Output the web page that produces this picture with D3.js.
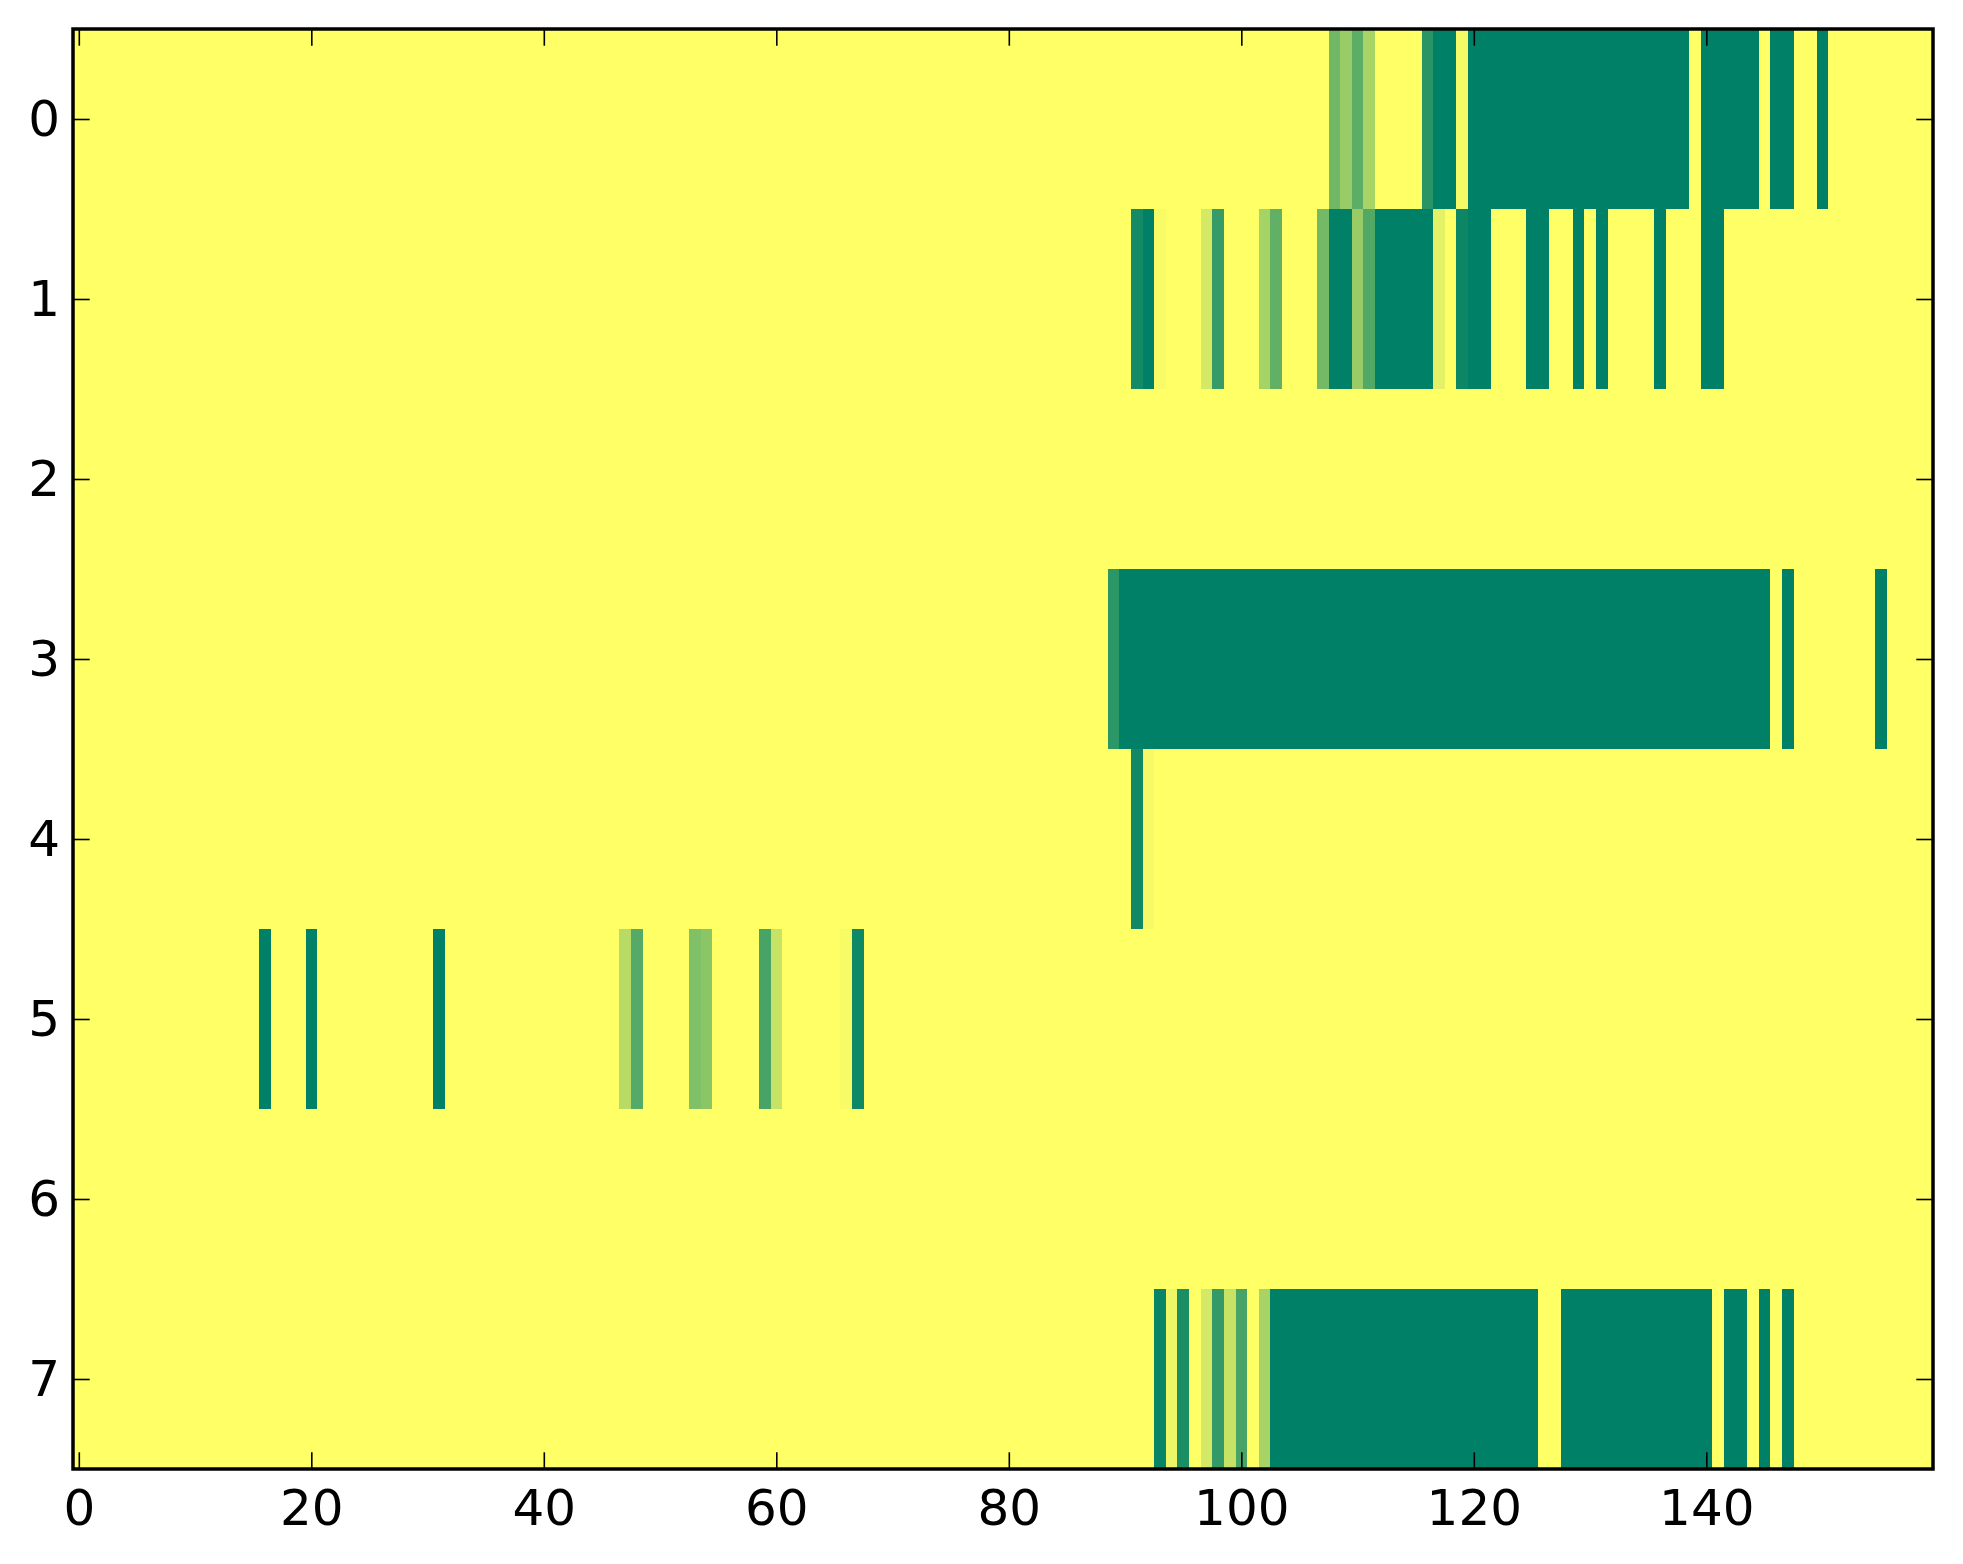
<!DOCTYPE html>
<html lang="en">
<head>
    <meta charset="UTF-8">
    <title>Heatmap</title>
    <style>
        body {
            margin: 0;
            background-color: white;
        }
        svg text {
            font-family: "DejaVu Sans", sans-serif;
        }
    </style>
</head>
<body>
    <div id="chart"></div>

    <script src="https://d3js.org/d3.v7.min.js"></script>
    <script>
        // one array per row, 160 columns each (values 0..1)
        const row0 = [
            0,0,0,0,0,0,0,0,0,0,0,0,0,0,0,0,0,0,0,0,
            0,0,0,0,0,0,0,0,0,0,0,0,0,0,0,0,0,0,0,0,
            0,0,0,0,0,0,0,0,0,0,0,0,0,0,0,0,0,0,0,0,
            0,0,0,0,0,0,0,0,0,0,0,0,0,0,0,0,0,0,0,0,
            0,0,0,0,0,0,0,0,0,0,0,0,0,0,0,0,0,0,0,0,
            0,0,0,0,0,0,0,0,.56,.4,.64,.34,0,0,0,0,.84,1,1,.04,
            1,1,1,1,1,1,1,1,1,1,1,1,1,1,1,1,1,1,1,0,
            1,1,1,1,1,0,1,1,0,0,1,0,0,0,0,0,0,0,0,0
        ];
        const row1 = [
            0,0,0,0,0,0,0,0,0,0,0,0,0,0,0,0,0,0,0,0,
            0,0,0,0,0,0,0,0,0,0,0,0,0,0,0,0,0,0,0,0,
            0,0,0,0,0,0,0,0,0,0,0,0,0,0,0,0,0,0,0,0,
            0,0,0,0,0,0,0,0,0,0,0,0,0,0,0,0,0,0,0,0,
            0,0,0,0,0,0,0,0,0,0,0,.92,1,.03,0,0,0,.17,.79,0,
            0,0,.35,.62,0,0,0,.55,1,1,.4,.68,1,1,1,1,1,.11,0,.95,
            1,1,0,0,0,1,1,0,0,1,0,1,0,0,0,0,1,0,0,0,
            1,1,0,0,0,0,0,0,0,0,0,0,0,0,0,0,0,0,0,0
        ];
        const row2 = [
            0,0,0,0,0,0,0,0,0,0,0,0,0,0,0,0,0,0,0,0,
            0,0,0,0,0,0,0,0,0,0,0,0,0,0,0,0,0,0,0,0,
            0,0,0,0,0,0,0,0,0,0,0,0,0,0,0,0,0,0,0,0,
            0,0,0,0,0,0,0,0,0,0,0,0,0,0,0,0,0,0,0,0,
            0,0,0,0,0,0,0,0,0,0,0,0,0,0,0,0,0,0,0,0,
            0,0,0,0,0,0,0,0,0,0,0,0,0,0,0,0,0,0,0,0,
            0,0,0,0,0,0,0,0,0,0,0,0,0,0,0,0,0,0,0,0,
            0,0,0,0,0,0,0,0,0,0,0,0,0,0,0,0,0,0,0,0
        ];
        const row3 = [
            0,0,0,0,0,0,0,0,0,0,0,0,0,0,0,0,0,0,0,0,
            0,0,0,0,0,0,0,0,0,0,0,0,0,0,0,0,0,0,0,0,
            0,0,0,0,0,0,0,0,0,0,0,0,0,0,0,0,0,0,0,0,
            0,0,0,0,0,0,0,0,0,0,0,0,0,0,0,0,0,0,0,0,
            0,0,0,0,0,0,0,0,0,.83,1,1,1,1,1,1,1,1,1,1,
            1,1,1,1,1,1,1,1,1,1,1,1,1,1,1,1,1,1,1,1,
            1,1,1,1,1,1,1,1,1,1,1,1,1,1,1,1,1,1,1,1,
            1,1,1,1,1,1,0,1,0,0,0,0,0,0,0,1,0,0,0,0
        ];
        const row4 = [
            0,0,0,0,0,0,0,0,0,0,0,0,0,0,0,0,0,0,0,0,
            0,0,0,0,0,0,0,0,0,0,0,0,0,0,0,0,0,0,0,0,
            0,0,0,0,0,0,0,0,0,0,0,0,0,0,0,0,0,0,0,0,
            0,0,0,0,0,0,0,0,0,0,0,0,0,0,0,0,0,0,0,0,
            0,0,0,0,0,0,0,0,0,0,0,.93,.04,0,0,0,0,0,0,0,
            0,0,0,0,0,0,0,0,0,0,0,0,0,0,0,0,0,0,0,0,
            0,0,0,0,0,0,0,0,0,0,0,0,0,0,0,0,0,0,0,0,
            0,0,0,0,0,0,0,0,0,0,0,0,0,0,0,0,0,0,0,0
        ];
        const row5 = [
            0,0,0,0,0,0,0,0,0,0,0,0,0,0,0,0,1,0,0,0,
            1,0,0,0,0,0,0,0,0,0,0,1,0,0,0,0,0,0,0,0,
            0,0,0,0,0,0,0,.28,.67,0,0,0,0,.5,.46,0,0,0,0,.72,
            .22,0,0,0,0,0,.03,.94,0,0,0,0,0,0,0,0,0,0,0,0,
            0,0,0,0,0,0,0,0,0,0,0,0,0,0,0,0,0,0,0,0,
            0,0,0,0,0,0,0,0,0,0,0,0,0,0,0,0,0,0,0,0,
            0,0,0,0,0,0,0,0,0,0,0,0,0,0,0,0,0,0,0,0,
            0,0,0,0,0,0,0,0,0,0,0,0,0,0,0,0,0,0,0,0
        ];
        const row6 = [
            0,0,0,0,0,0,0,0,0,0,0,0,0,0,0,0,0,0,0,0,
            0,0,0,0,0,0,0,0,0,0,0,0,0,0,0,0,0,0,0,0,
            0,0,0,0,0,0,0,0,0,0,0,0,0,0,0,0,0,0,0,0,
            0,0,0,0,0,0,0,0,0,0,0,0,0,0,0,0,0,0,0,0,
            0,0,0,0,0,0,0,0,0,0,0,0,0,0,0,0,0,0,0,0,
            0,0,0,0,0,0,0,0,0,0,0,0,0,0,0,0,0,0,0,0,
            0,0,0,0,0,0,0,0,0,0,0,0,0,0,0,0,0,0,0,0,
            0,0,0,0,0,0,0,0,0,0,0,0,0,0,0,0,0,0,0,0
        ];
        const row7 = [
            0,0,0,0,0,0,0,0,0,0,0,0,0,0,0,0,0,0,0,0,
            0,0,0,0,0,0,0,0,0,0,0,0,0,0,0,0,0,0,0,0,
            0,0,0,0,0,0,0,0,0,0,0,0,0,0,0,0,0,0,0,0,
            0,0,0,0,0,0,0,0,0,0,0,0,0,0,0,0,0,0,0,0,
            0,0,0,0,0,0,0,0,0,0,0,0,0,.97,.07,.89,0,.17,.8,.22,
            .72,0,.34,1,1,1,1,1,1,1,1,1,1,1,1,1,1,1,1,1,
            1,1,1,1,1,1,0,0,1,1,1,1,1,1,1,1,1,1,1,1,
            1,0,1,1,0,1,0,1,0,0,0,0,0,0,0,0,0,0,0,0
        ];
        const rows = [row0, row1, row2, row3, row4, row5, row6, row7];

        const xTicks = [0, 20, 40, 60, 80, 100, 120, 140];
        const yTicks = [0, 1, 2, 3, 4, 5, 6, 7];

        const width = 1963;
        const height = 1564;
        const margin = { left: 73, right: 1933, top: 29, bottom: 1469 };
        const tickLen = 16.7;

        const nCols = row0.length;
        const nRows = rows.length;

        const x = d3.scaleLinear().domain([-0.5, nCols - 0.5]).range([margin.left, margin.right]);
        const y = d3.scaleLinear().domain([-0.5, nRows - 0.5]).range([margin.top, margin.bottom]);
        // summer_r: 0 -> yellow, 1 -> green
        const color = d3.scaleLinear().domain([0, 1]).range(['#ffff66', '#008066']);

        const svg = d3.select('#chart')
            .append('svg')
            .attr('width', width)
            .attr('height', height);

        const cells = [];
        rows.forEach((r, i) => r.forEach((v, j) => cells.push({ row: i, col: j, value: v })));

        svg.append('g')
            .attr('shape-rendering', 'crispEdges')
            .selectAll('rect')
            .data(cells)
            .join('rect')
            .attr('x', d => x(d.col - 0.5))
            .attr('y', d => y(d.row - 0.5))
            .attr('width', d => x(d.col + 0.5) - x(d.col - 0.5) + 0.5)
            .attr('height', d => y(d.row + 0.5) - y(d.row - 0.5) + 0.5)
            .attr('fill', d => color(d.value));

        function styleAxis(g, labels) {
            g.select('.domain').remove();
            g.selectAll('.tick line').attr('stroke', 'black').attr('stroke-width', 1.6);
            g.selectAll('.tick text')
                .attr('fill', 'black')
                .style('font-size', labels ? '50px' : '0px');
        }

        svg.append('g')
            .attr('transform', `translate(0,${margin.bottom})`)
            .call(d3.axisBottom(x).tickValues(xTicks).tickSize(-tickLen).tickPadding(20))
            .call(g => styleAxis(g, true));

        svg.append('g')
            .attr('transform', `translate(0,${margin.top})`)
            .call(d3.axisTop(x).tickValues(xTicks).tickSize(-tickLen).tickFormat(''))
            .call(g => styleAxis(g, false));

        svg.append('g')
            .attr('transform', `translate(${margin.left},0)`)
            .call(d3.axisLeft(y).tickValues(yTicks).tickSize(-tickLen).tickPadding(13))
            .call(g => styleAxis(g, true));

        svg.append('g')
            .attr('transform', `translate(${margin.right},0)`)
            .call(d3.axisRight(y).tickValues(yTicks).tickSize(-tickLen).tickFormat(''))
            .call(g => styleAxis(g, false));

        svg.append('rect')
            .attr('x', margin.left)
            .attr('y', margin.top)
            .attr('width', margin.right - margin.left)
            .attr('height', margin.bottom - margin.top)
            .attr('fill', 'none')
            .attr('stroke', 'black')
            .attr('stroke-width', 3.5);
    </script>
</body>
</html>
